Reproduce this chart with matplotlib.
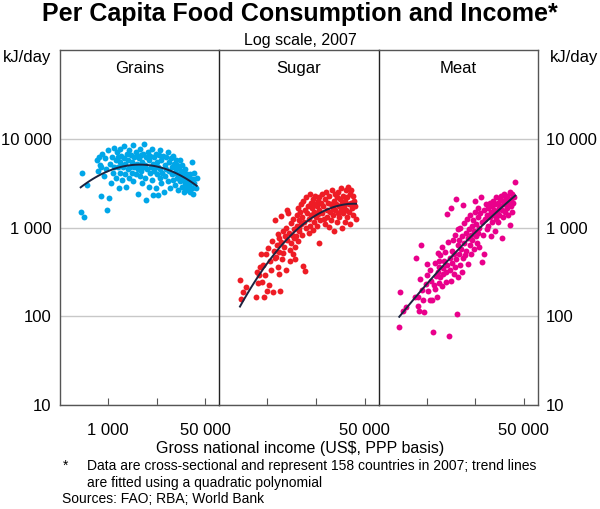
import numpy as np
import matplotlib.pyplot as plt
from matplotlib.ticker import FixedLocator, FuncFormatter, NullLocator

plt.rcParams['font.family'] = ['Liberation Sans', 'DejaVu Sans']

# log10 of GNI per capita (US$, PPP basis), one entry per country, sorted
gni_log = [
    2.52, 2.54, 2.58, 2.63, 2.80, 2.82, 2.84, 2.85,
    2.87, 2.88, 2.90, 2.92, 2.94, 2.96, 2.98, 3.00,
    3.01, 3.03, 3.05, 3.06, 3.08, 3.10, 3.11, 3.13,
    3.14, 3.15, 3.17, 3.18, 3.19, 3.20, 3.21, 3.21,
    3.22, 3.23, 3.24, 3.26, 3.27, 3.28, 3.29, 3.30,
    3.32, 3.33, 3.34, 3.35, 3.36, 3.37, 3.39, 3.40,
    3.41, 3.42, 3.43, 3.44, 3.45, 3.46, 3.47, 3.48,
    3.49, 3.50, 3.51, 3.52, 3.53, 3.54, 3.55, 3.55,
    3.56, 3.57, 3.58, 3.59, 3.60, 3.61, 3.62, 3.63,
    3.64, 3.65, 3.66, 3.67, 3.68, 3.69, 3.71, 3.72,
    3.73, 3.74, 3.75, 3.76, 3.77, 3.78, 3.79, 3.80,
    3.81, 3.82, 3.83, 3.84, 3.85, 3.86, 3.87, 3.88,
    3.89, 3.90, 3.90, 3.91, 3.92, 3.93, 3.95, 3.96,
    3.97, 3.99, 4.00, 4.01, 4.02, 4.04, 4.05, 4.06,
    4.07, 4.08, 4.10, 4.11, 4.12, 4.13, 4.14, 4.15,
    4.16, 4.17, 4.18, 4.19, 4.20, 4.21, 4.22, 4.23,
    4.24, 4.25, 4.26, 4.27, 4.28, 4.29, 4.30, 4.31,
    4.32, 4.33, 4.34, 4.35, 4.36, 4.37, 4.38, 4.39,
    4.40, 4.41, 4.42, 4.43, 4.44, 4.45, 4.46, 4.47,
    4.48, 4.49, 4.50, 4.51, 4.53, 4.55,
]

# log10 of consumption, kJ/day, same country order
grains_log = [
    3.18, 3.61, 3.12, 3.48, 3.76, 3.64, 3.79, 3.70,
    3.36, 3.68, 3.83, 3.58, 3.78, 3.66, 3.20, 3.87,
    3.33, 3.72, 3.50, 3.80, 3.62, 3.90, 3.68, 3.76,
    3.56, 3.85, 3.68, 3.80, 3.44, 3.74, 3.62, 3.88,
    3.70, 3.81, 3.54, 3.68, 3.92, 3.78, 3.60, 3.72,
    3.46, 3.83, 3.66, 3.76, 3.56, 3.87, 3.68, 3.82,
    3.62, 3.74, 3.93, 3.52, 3.80, 3.68, 3.70, 3.85,
    3.60, 3.81, 3.72, 3.66, 3.38, 3.78, 3.89, 3.68,
    3.58, 3.82, 3.64, 3.74, 3.50, 3.83, 3.68, 3.94,
    3.70, 3.56, 3.80, 3.31, 3.66, 3.85, 3.46, 3.76,
    3.62, 3.81, 3.68, 3.54, 3.89, 3.72, 3.37, 3.64,
    3.80, 3.68, 3.45, 3.83, 3.60, 3.74, 3.37, 3.68,
    3.82, 3.56, 3.87, 3.66, 3.50, 3.76, 3.62, 3.81,
    3.40, 3.70, 3.58, 3.80, 3.66, 3.85, 3.52, 3.74,
    3.64, 3.44, 3.78, 3.60, 3.68, 3.81, 3.54, 3.72,
    3.62, 3.48, 3.76, 3.66, 3.56, 3.70, 3.42, 3.60,
    3.68, 3.52, 3.76, 3.58, 3.64, 3.46, 3.70, 3.55,
    3.62, 3.40, 3.50, 3.66, 3.57, 3.45, 3.60, 3.52,
    3.42, 3.56, 3.48, 3.60, 3.40, 3.52, 3.74, 3.45,
    3.55, 3.38, 3.50, 3.62, 3.44, 3.56,
]

sugar_log = [
    2.41, 2.19, 2.27, 2.33, 2.22, 2.50, 2.38, 2.47,
    2.55, 2.70, 2.39, 2.58, 2.22, 2.46, 2.70, 2.28,
    2.77, 2.35, 2.62, 2.52, 2.85, 2.27, 2.74, 2.66,
    3.09, 2.67, 2.80, 2.56, 2.93, 2.72, 2.88, 2.48,
    2.29, 3.13, 2.84, 2.64, 2.96, 2.71, 2.78, 2.90,
    2.52, 3.00, 3.20, 2.86, 3.16, 2.94, 2.75, 2.62,
    2.82, 3.05, 2.92, 2.70, 3.10, 2.88, 2.98, 2.78,
    2.65, 2.90, 3.14, 3.02, 2.85, 3.22, 2.96, 3.08,
    2.99, 3.18, 3.04, 3.26, 2.92, 3.12, 2.57, 3.30,
    3.06, 3.20, 2.51, 3.34, 3.00, 3.16, 3.24, 2.94,
    3.10, 3.38, 3.02, 3.28, 3.14, 3.22, 2.97, 3.32,
    3.18, 3.06, 3.26, 3.36, 3.12, 3.24, 3.02, 3.30,
    3.15, 2.83, 3.34, 3.20, 3.08, 3.28, 3.38, 3.16,
    3.24, 3.10, 3.32, 3.04, 3.40, 3.20, 3.12, 3.28,
    3.01, 3.36, 3.18, 3.26, 3.08, 3.42, 3.22, 3.14,
    3.30, 2.96, 3.38, 3.20, 3.26, 3.06, 3.34, 3.16,
    3.40, 3.24, 3.12, 3.32, 3.20, 3.44, 3.00, 3.28,
    3.16, 3.36, 3.24, 3.06, 3.30, 3.42, 3.20, 3.12,
    3.34, 3.46, 3.18, 3.26, 3.04, 3.38, 3.28, 3.42,
    3.22, 3.36, 3.14, 3.30, 3.24, 3.10,
]

meat_log = [
    1.88, 2.27, 2.06, 2.10, 2.22, 2.66, 2.12, 2.22,
    2.06, 2.42, 2.80, 2.30, 2.18, 2.05, 2.36, 2.59,
    2.47, 2.28, 2.18, 2.52, 2.40, 2.18, 1.82, 2.35,
    2.31, 2.60, 2.45, 2.22, 2.71, 2.50, 2.38, 2.62,
    2.56, 2.44, 2.69, 2.34, 2.78, 2.54, 2.48, 2.62,
    2.72, 2.50, 2.39, 3.15, 2.58, 2.84, 1.78, 2.66,
    2.52, 3.22, 2.40, 2.74, 2.60, 2.86, 2.48, 2.70,
    2.92, 2.56, 3.32, 2.64, 2.02, 2.80, 2.44, 2.98,
    2.70, 2.86, 2.58, 3.00, 2.76, 2.50, 2.90, 3.25,
    2.66, 2.82, 3.05, 2.69, 2.94, 2.74, 3.10, 2.88,
    2.59, 2.98, 2.80, 3.14, 2.92, 2.70, 3.02, 2.86,
    3.08, 2.76, 2.96, 3.18, 3.30, 2.90, 3.04, 2.82,
    3.12, 2.94, 3.22, 3.00, 2.78, 3.16, 3.34, 2.61,
    3.06, 2.92, 3.20, 2.70, 3.10, 3.26, 2.98, 3.14,
    3.22, 3.02, 3.28, 3.12, 2.90, 3.18, 3.24, 3.06,
    3.30, 3.14, 3.20, 2.96, 3.26, 3.10, 3.34, 3.18,
    3.06, 3.28, 3.22, 3.14, 3.32, 3.24, 3.36, 2.88,
    3.20, 3.30, 3.12, 3.38, 3.26, 3.18, 3.34, 3.28,
    3.22, 3.36, 3.14, 3.30, 3.26, 3.40, 3.03, 3.32,
    3.24, 3.38, 3.18, 3.28, 3.34, 3.51,
]

panels = ['Grains', 'Sugar', 'Meat']
series = [grains_log, sugar_log, meat_log]
colours = ['#00a6e8', '#ee1c25', '#e9008b']
x_ticks = [1000, 7071, 50000]
x_labels = [['1 000', '', '50 000'], ['', '', '50 000'], ['', '', '50 000']]
y_ticks = [10, 100, 1000, 10000]


def thousands(v, pos):
    return '{:,.0f}'.format(v).replace(',', ' ')


fig = plt.figure(figsize=(6.0, 5.09), dpi=100)

left, bottom, width, height = 0.1, 0.2043, 0.2655, 0.6974
gni = 10 ** np.array(gni_log)
frame = '#555555'

for i, (name, ylog, col) in enumerate(zip(panels, series, colours)):
    ax = fig.add_axes([left + i * width, bottom, width, height])
    ax.set_xscale('log')
    ax.set_yscale('log')
    ax.set_xlim(144, 88000)
    ax.set_ylim(10, 100000)

    ax.scatter(gni, 10 ** np.array(ylog), s=18, color=col, linewidths=0, zorder=3)

    # quadratic trend in log-log space
    coef = np.polyfit(gni_log, ylog, 2)
    xs = np.linspace(min(gni_log), max(gni_log), 100)
    ax.plot(10 ** xs, 10 ** np.polyval(coef, xs), color='#1c2340', lw=1.4, zorder=4)

    ax.yaxis.set_major_locator(FixedLocator(y_ticks))
    ax.yaxis.set_minor_locator(NullLocator())
    ax.yaxis.set_major_formatter(FuncFormatter(thousands))
    ax.grid(axis='y', color='#c8c8c8', lw=1, zorder=0)
    ax.tick_params(axis='y', length=0, labelsize=12, pad=6,
                   labelleft=(i == 0), labelright=(i == 2))

    ax.xaxis.set_major_locator(FixedLocator(x_ticks))
    ax.xaxis.set_minor_locator(NullLocator())
    ax.set_xticklabels(x_labels[i])
    ax.tick_params(axis='x', direction='in', length=5, color=frame,
                   labelsize=12, pad=13)

    for side in ['top', 'bottom', 'left', 'right']:
        ax.spines[side].set_color(frame)
        ax.spines[side].set_linewidth(1)
    if i > 0:
        ax.spines['left'].set_color('#222222')
    if i < 2:
        ax.spines['right'].set_visible(False)

    ax.text(0.5, 0.949, name, transform=ax.transAxes, ha='center', va='center',
            fontsize=12)


def px(x, y):
    return x / 600, 1 - y / 509


fig.text(*px(300, 14), 'Per Capita Food Consumption and Income*', ha='center',
         va='center', fontsize=18, fontweight='bold')
fig.text(*px(300, 40), 'Log scale, 2007', ha='center', va='center', fontsize=11.5)
fig.text(*px(3, 58), 'kJ/day', ha='left', va='center', fontsize=12)
fig.text(*px(598, 58), 'kJ/day', ha='right', va='center', fontsize=12)
fig.text(*px(300, 449), 'Gross national income (US$, PPP basis)', ha='center',
         va='center', fontsize=11.5)
fig.text(*px(63, 466), '*', ha='left', va='center', fontsize=10)
fig.text(*px(87, 466), 'Data are cross-sectional and represent 158 countries in 2007; trend lines',
         ha='left', va='center', fontsize=10)
fig.text(*px(87, 483), 'are fitted using a quadratic polynomial', ha='left', va='center',
         fontsize=10)
fig.text(*px(62, 499), 'Sources: FAO; RBA; World Bank', ha='left', va='center', fontsize=10)

fig.savefig('out.png', dpi=100)
